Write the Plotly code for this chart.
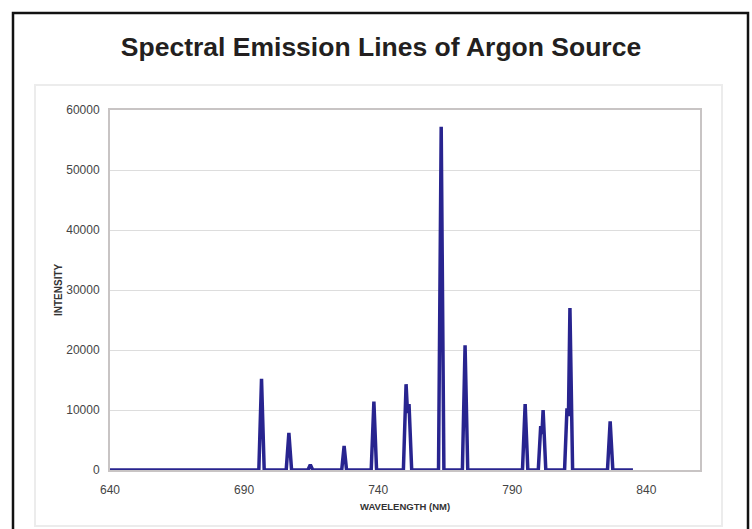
import plotly.graph_objects as go

# spectrum points (nm, counts)
wavelength = [640, 695.5, 696.5, 697.5, 705.7, 706.7, 707.7, 713.8, 714.7, 715.6,
              726.4, 727.3, 728.2, 737.4, 738.4, 739.4, 749.4, 750.4, 750.95, 751.5,
              752.5, 762.5, 763.5, 764.5, 771.4, 772.4, 773.4, 793.8, 794.8, 795.8,
              799.7, 800.6, 801.05, 801.5, 802.5, 809.5, 810.4, 810.95, 811.5, 812.5,
              825.5, 826.5, 827.5, 835]
intensity = [0, 0, 15200, 0, 0, 6200, 0, 0, 900, 0,
             0, 4000, 0, 0, 11400, 0, 0, 14300, 9500, 11000,
             0, 0, 57200, 0, 0, 20800, 0, 0, 11000, 0,
             0, 7300, 6000, 10000, 0, 0, 10300, 9000, 27000, 0,
             0, 8100, 0, 0]

x_ticks = [640, 690, 740, 790, 840]
y_ticks = [0, 10000, 20000, 30000, 40000, 50000, 60000]

fig = go.Figure()
fig.add_trace(go.Scatter(
    x=wavelength,
    y=intensity,
    mode='lines',
    line=dict(color='#28248f', width=3.5),
    showlegend=False
))

fig.update_layout(
    width=752,
    height=529,
    margin=dict(l=110, r=52, t=110, b=59),
    paper_bgcolor='white',
    plot_bgcolor='white',
    font=dict(family='Arial, Liberation Sans, sans-serif', color='#444'),
    title=dict(
        text='<b>Spectral Emission Lines of Argon Source</b>',
        x=381 / 752, y=1 - 47 / 529,
        xanchor='center', yanchor='middle',
        font=dict(size=26.5, color='#231f20')
    )
)

fig.update_xaxes(
    range=[640, 860],
    tickvals=x_ticks,
    ticktext=[str(v) for v in x_ticks],
    showgrid=False,
    zeroline=False,
    showline=True, linecolor='#c8c4c4', linewidth=2, mirror=True,
    tickfont=dict(size=12, color='#444'),
    ticklabelstandoff=8
)
fig.update_yaxes(
    range=[0, 60000],
    tickvals=y_ticks,
    ticktext=[str(v) for v in y_ticks],
    showgrid=True, gridcolor='#dddddd', gridwidth=1,
    zeroline=False,
    showline=True, linecolor='#c8c4c4', linewidth=2, mirror=True,
    tickfont=dict(size=12, color='#444'),
    ticklabelstandoff=6
)

# axis titles
fig.add_annotation(text='<b>INTENSITY</b>', xref='paper', yref='paper',
                   x=(58 - 110) / 590, y=0.5, xanchor='center', yanchor='middle',
                   textangle=-90, showarrow=False,
                   font=dict(size=10, color='#333'))
fig.add_annotation(text='<b>WAVELENGTH (NM)</b>', xref='paper', yref='paper',
                   x=(405 - 110) / 590, y=(470 - 506) / 360,
                   xanchor='center', yanchor='middle', showarrow=False,
                   font=dict(size=9.5, color='#333'))

# faint chart-area box and the black outer frame
fig.add_shape(type='rect', xref='paper', yref='paper',
              x0=(35 - 110) / 590, x1=(722 - 110) / 590,
              y0=(470 - 526) / 360, y1=(470 - 85) / 360,
              line=dict(color='#ececec', width=2), layer='below')
fig.add_shape(type='rect', xref='paper', yref='paper',
              x0=(13 - 110) / 590, x1=(748 - 110) / 590,
              y0=(470 - 545) / 360, y1=(470 - 13) / 360,
              line=dict(color='#111111', width=2.5))

fig.write_html("out.html", config={'displayModeBar': False},
               post_script="document.body.style.margin='0';")
